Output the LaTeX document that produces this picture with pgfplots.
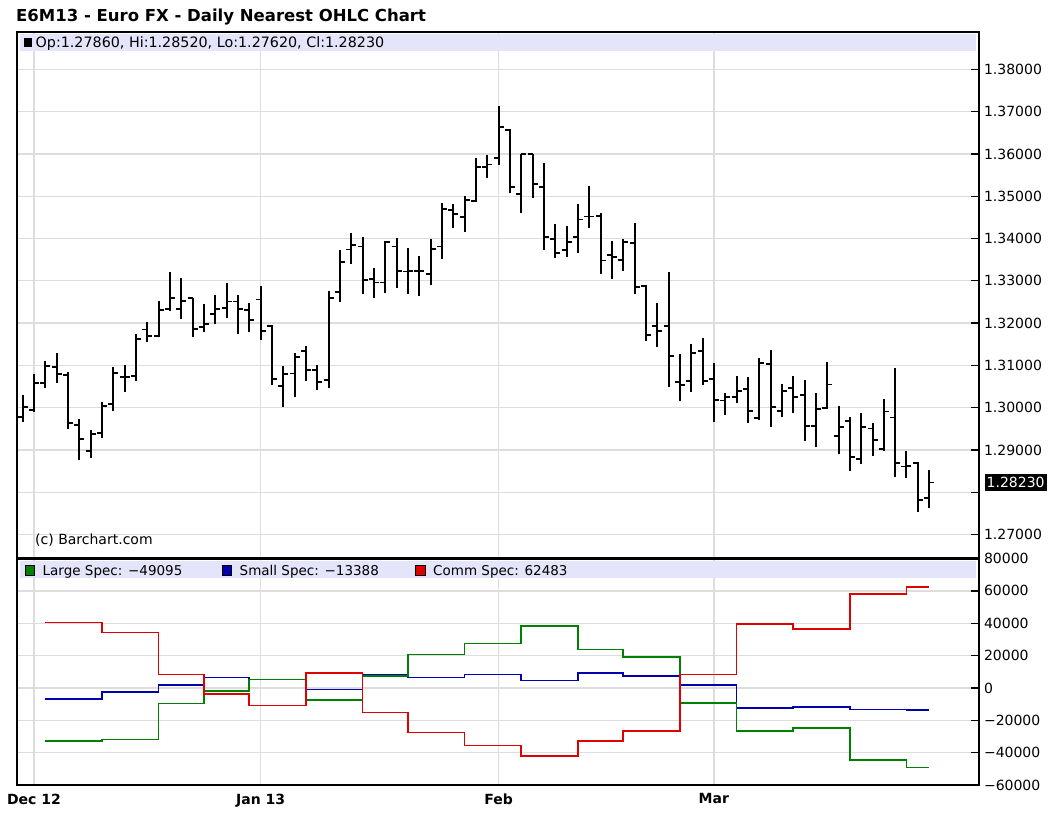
\documentclass[border=0pt]{standalone}
\usepackage{fontspec}
\setmainfont{DejaVu Sans}
\usepackage{pgfplots}
\usepackage{pgfplotstable}
\pgfplotsset{compat=1.18}
\definecolor{band}{RGB}{228,228,250}
\definecolor{gridc}{RGB}{221,221,221}
\definecolor{lgreen}{RGB}{0,128,0}
\definecolor{lblue}{RGB}{0,0,176}
\definecolor{lred}{RGB}{224,0,0}
\pgfdeclareplotmark{ohlcopen}{\pgfpathmoveto{\pgfqpoint{-\pgfplotmarksize}{0pt}}\pgfpathlineto{\pgfqpoint{0pt}{0pt}}\pgfusepathqstroke}
\pgfdeclareplotmark{ohlcclose}{\pgfpathmoveto{\pgfqpoint{0pt}{0pt}}\pgfpathlineto{\pgfqpoint{\pgfplotmarksize}{0pt}}\pgfusepathqstroke}
\newcommand\lbl{\fontsize{14}{16}\selectfont}
\pgfplotstableread{
i o h l c
-1 1.2979 1.3030 1.2967 1.3002
0 1.2995 1.3080 1.2991 1.3058
1 1.3058 1.3111 1.3046 1.3099
2 1.3097 1.3129 1.3059 1.3080
3 1.3077 1.3085 1.2950 1.2963
4 1.2959 1.2973 1.2876 1.2926
5 1.2898 1.2947 1.2882 1.2938
6 1.2941 1.3014 1.2929 1.3005
7 1.3008 1.3097 1.2992 1.3083
8 1.3073 1.3101 1.3038 1.3073
9 1.3075 1.3174 1.3064 1.3162
10 1.3185 1.3203 1.3155 1.3170
11 1.3170 1.3253 1.3166 1.3231
12 1.3233 1.3320 1.3229 1.3260
13 1.3233 1.3306 1.3209 1.3253
14 1.3260 1.3260 1.3166 1.3186
15 1.3191 1.3245 1.3180 1.3197
16 1.3221 1.3266 1.3198 1.3233
17 1.3235 1.3296 1.3211 1.3251
18 1.3251 1.3266 1.3174 1.3233
19 1.3231 1.3247 1.3180 1.3207
20 1.3256 1.3288 1.3160 1.3181
21 1.3193 1.3196 1.3054 1.3067
22 1.3051 1.3099 1.3002 1.3079
23 1.3081 1.3129 1.3025 1.3119
24 1.3135 1.3146 1.3063 1.3089
25 1.3089 1.3101 1.3042 1.3060
26 1.3065 1.3277 1.3046 1.3259
27 1.3274 1.3373 1.3251 1.3344
28 1.3374 1.3412 1.3340 1.3385
29 1.3381 1.3404 1.3269 1.3302
30 1.3304 1.3330 1.3259 1.3296
31 1.3296 1.3395 1.3272 1.3392
32 1.3381 1.3402 1.3284 1.3324
33 1.3322 1.3377 1.3269 1.3323
34 1.3324 1.3359 1.3265 1.3324
35 1.3316 1.3399 1.3290 1.3375
36 1.3381 1.3483 1.3351 1.3469
37 1.3467 1.3481 1.3424 1.3458
38 1.3450 1.3501 1.3415 1.3491
39 1.3489 1.3591 1.3486 1.3570
40 1.3570 1.3597 1.3542 1.3575
41 1.3591 1.3714 1.3574 1.3664
42 1.3657 1.3658 1.3507 1.3522
43 1.3505 1.3599 1.3460 1.3599
44 1.3599 1.3599 1.3496 1.3528
45 1.3522 1.3579 1.3373 1.3404
46 1.3399 1.3434 1.3353 1.3366
47 1.3373 1.3430 1.3357 1.3392
48 1.3403 1.3482 1.3365 1.3445
49 1.3452 1.3524 1.3424 1.3452
50 1.3453 1.3460 1.3315 1.3348
51 1.3361 1.3395 1.3304 1.3356
52 1.3349 1.3398 1.3323 1.3392
53 1.3390 1.3437 1.3269 1.3285
54 1.3288 1.3290 1.3158 1.3172
55 1.3194 1.3247 1.3144 1.3182
56 1.3193 1.3320 1.3048 1.3122
57 1.3061 1.3127 1.3017 1.3054
58 1.3064 1.3151 1.3038 1.3129
59 1.3135 1.3164 1.3054 1.3064
60 1.3068 1.3105 1.2966 1.3018
61 1.3017 1.3035 1.2983 1.3026
62 1.3026 1.3075 1.3010 1.3040
63 1.3044 1.3072 1.2965 1.2993
64 1.2975 1.3118 1.2971 1.3106
65 1.3103 1.3136 1.2954 1.3001
66 1.2993 1.3055 1.2977 1.3040
67 1.3046 1.3076 1.2988 1.3025
68 1.3030 1.3065 1.2921 1.2957
69 1.2957 1.3034 1.2906 1.2997
70 1.2999 1.3107 1.2996 1.3055
71 1.2933 1.3005 1.2890 1.2955
72 1.2969 1.2977 1.2850 1.2884
73 1.2878 1.2987 1.2866 1.2954
74 1.2951 1.2963 1.2886 1.2924
75 1.2902 1.3020 1.2898 1.2991
76 1.2977 1.3093 1.2837 1.2870
77 1.2861 1.2898 1.2833 1.2862
78 1.2870 1.2872 1.2754 1.2782
79 1.2786 1.2852 1.2762 1.2823
}\ohlc
\begin{document}
\begin{tikzpicture}
\path[use as bounding box] (0,0) rectangle (1059pt,-819pt);
\begin{axis}[
  at={(17.3pt,-31.7pt)}, anchor=north west, scale only axis,
  width=961.7pt, height=525.8pt,
  xmin=-1.47, xmax=83.4, ymin=1.26459, ymax=1.38889,
  axis line style={line width=2pt, black},
  xtick={0,20,41,60}, xticklabels={}, xmajorgrids,
  major x tick style={draw=none},
  ytick={1.27,1.28,1.29,1.30,1.31,1.32,1.33,1.34,1.35,1.36,1.37,1.38},
  yticklabels={1.27000,,1.29000,1.30000,1.31000,1.32000,1.33000,1.34000,1.35000,1.36000,1.37000,1.38000},
  ymajorgrids, grid style={draw=gridc, line width=1.3pt},
  ytick pos=right, yticklabel pos=right, tick align=inside, major tick length=8pt,
  major y tick style={line width=1.3pt, black},
  yticklabel style={font=\lbl, anchor=west, xshift=1.5pt},
  extra y ticks={1.2823}, extra y tick labels={1.28230},
  extra y tick style={grid=none, major tick length=0pt,
    tick label style={fill=black, text=white, inner xsep=2pt, inner ysep=3.2pt, xshift=4pt}},
]
\addplot[only marks, mark size=0pt, mark options={draw=none, fill=none}, forget plot,
  error bars/.cd, y dir=plus, y explicit, error mark=none,
  error bar style={line width=2pt, draw=black}]
  table[x=i, y=l, y error expr=\thisrow{h}-\thisrow{l}] {\ohlc};
\addplot[only marks, mark=ohlcopen, mark size=5pt, mark options={line width=1.8pt, draw=black}] table[x=i, y=o] {\ohlc};
\addplot[only marks, mark=ohlcclose, mark size=5pt, mark options={line width=1.8pt, draw=black}] table[x=i, y=c] {\ohlc};
\end{axis}
\begin{axis}[
  at={(17.3pt,-558.5pt)}, anchor=north west, scale only axis,
  width=961.7pt, height=226.7pt,
  xmin=-1.47, xmax=83.4, ymin=-60000, ymax=80000,
  axis line style={line width=2pt, black},
  xtick={0,20,41,60}, xticklabels={Dec 12,Jan 13,Feb,Mar}, xmajorgrids,
  major x tick style={draw=none},
  xticklabel style={font=\lbl\bfseries, yshift=-5pt},
  ytick={-60000,-40000,-20000,0,20000,40000,60000,80000},
  yticklabels={−60000,−40000,−20000,0,20000,40000,60000,80000},
  scaled y ticks=false,
  ymajorgrids, grid style={draw=gridc, line width=1.3pt},
  ytick pos=right, yticklabel pos=right, tick align=inside, major tick length=8pt,
  major y tick style={line width=1.3pt, black},
  yticklabel style={font=\lbl, anchor=west, xshift=1.5pt},
]
\addplot[const plot, lblue, line width=1.6pt] coordinates {(1,-6700) (6,-2580) (11,2000) (15,6400) (19,5400) (24,-860) (29,8000) (33,6400) (38,8400) (43,4600) (48,9200) (52,7400) (57,2000) (62,-12500) (67,-11600) (72,-13300) (77,-13388) (79,-13388)};
\addplot[const plot, lgreen, line width=1.6pt] coordinates {(1,-32800) (6,-31800) (11,-9500) (15,-1700) (19,5400) (24,-7500) (29,7400) (33,20800) (38,27500) (43,38300) (48,23900) (52,19200) (57,-9200) (62,-26400) (67,-24600) (72,-44600) (77,-49095) (79,-49095)};
\addplot[const plot, lred, line width=1.6pt] coordinates {(1,40500) (6,34400) (11,8400) (15,-3700) (19,-10750) (24,9200) (29,-15050) (33,-27400) (38,-35600) (43,-41900) (48,-32800) (52,-26400) (57,8400) (62,39400) (67,36560) (72,58200) (77,62483) (79,62483)};
\end{axis}
% title and header bands
\node[anchor=base west, inner sep=0pt, font=\bfseries\fontsize{16.5}{19}\selectfont] at (16pt,-21.7pt) {E6M13 - Euro FX - Daily Nearest OHLC Chart};
\fill[band] (19.8pt,-34.3pt) rectangle (976pt,-51pt);
\fill[black] (24pt,-38.3pt) rectangle (32pt,-46.7pt);
\node[anchor=base west, inner sep=0pt, font=\fontsize{14.3}{16}\selectfont] at (35.5pt,-47pt) {Op:1.27860, Hi:1.28520, Lo:1.27620, Cl:1.28230};
\node[anchor=base west, inner sep=0pt, font=\fontsize{14}{16}\selectfont] at (35pt,-544pt) {(c) Barchart.com};
\fill[band] (19.8pt,-560.8pt) rectangle (976pt,-577.5pt);
\filldraw[fill=lgreen, draw=black, line width=0.8pt] (25pt,-565.5pt) rectangle (34.5pt,-575pt);
\node[anchor=base west, inner sep=0pt, font=\fontsize{13.5}{16}\selectfont] at (42.5pt,-575.5pt) {Large Spec: −49095};
\filldraw[fill=lblue, draw=black, line width=0.8pt] (222pt,-565.5pt) rectangle (231.5pt,-575pt);
\node[anchor=base west, inner sep=0pt, font=\fontsize{13.5}{16}\selectfont] at (239.5pt,-575.5pt) {Small Spec: −13388};
\filldraw[fill=lred, draw=black, line width=0.8pt] (415.5pt,-565.5pt) rectangle (425pt,-575pt);
\node[anchor=base west, inner sep=0pt, font=\fontsize{13.5}{16}\selectfont] at (433pt,-575.5pt) {Comm Spec: 62483};
\end{tikzpicture}
\end{document}
